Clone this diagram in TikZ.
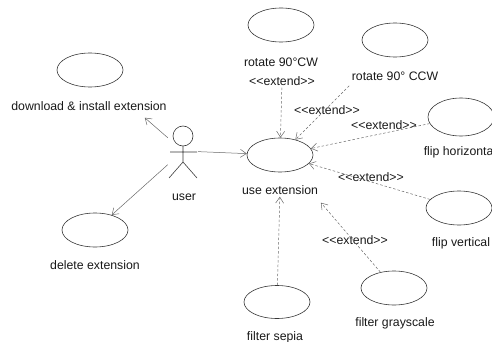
\documentclass[tikz,border=0pt]{standalone}
\usepackage{fontspec}
\setmainfont{Liberation Sans}
\usetikzlibrary{arrows.meta,shapes.geometric}
\definecolor{UcInk}{RGB}{25,25,25}
\definecolor{UcLine}{RGB}{55,55,55}
\definecolor{UcGray}{RGB}{105,105,105}
% plain angle brackets, no guillemet ligature
\newcommand{\extendtag}{<{}<extend>{}>}
\tikzset{
  uc/case/.style={
    ellipse,
    draw=UcLine,
    line width=0.6pt,
    minimum width=66pt,
    minimum height=34pt,
    inner sep=0pt
  },
  uc/label/.style={
    font=\fontsize{12.3}{14}\selectfont,
    text=UcInk,
    inner sep=2pt
  },
  uc/stereo/.style={uc/label},
  uc/actor/.style={minimum width=30pt, minimum height=56pt, inner sep=0pt},
  uc/assoc/.style={-{Straight Barb[length=6pt,width=8pt]}, draw=UcGray, line width=0.5pt},
  uc/ext/.style={uc/assoc, dash pattern=on 2.5pt off 2pt}
}

\begin{document}
\begin{tikzpicture}[x=1pt,y=-1pt]
  \useasboundingbox (0,0) rectangle (492,342);

  % the actor
  \node[uc/actor] (actor) at (183,151) {};
  \draw[UcLine, line width=0.6pt, shift={(actor.center)}]
    (0,-15) circle[radius=10]
    (0,-5) -- (0,11)
    (-13,1) -- (14,1)
    (-14,27) -- (0,11) -- (14,27);
  \node[uc/label] (usertxt) at (184,197) {user};

  % use cases
  \node[uc/case] (download) at (90,70) {};
  \node[uc/label] (downloadtxt) at (89,106) {download \& install extension};
  \node[uc/case] (delete) at (95,230) {};
  \node[uc/label] (deletetxt) at (95,265) {delete extension};
  \node[uc/case] (use) at (280,155) {};
  \node[uc/label] (usetxt) at (280,190) {use extension};
  \node[uc/case] (cw) at (281,25) {};
  \node[uc/label] (cwtxt) at (281,62) {rotate 90°CW};
  \node[uc/case] (ccw) at (395,40) {};
  \node[uc/label] (ccwtxt) at (395,76) {rotate 90° CCW};
  \node[uc/case,minimum height=38pt] (fliph) at (461,117) {};
  \node[uc/label] (fliphtxt) at (460,152) {flip horizontal};
  \node[uc/case] (flipv) at (459,208) {};
  \node[uc/label] (flipvtxt) at (461,243) {flip vertical};
  \node[uc/case] (gray) at (394,288) {};
  \node[uc/label] (graytxt) at (395,323) {filter grayscale};
  \node[uc/case,minimum height=33pt] (sepia) at (277,302) {};
  \node[uc/label] (sepiatxt) at (275,337) {filter sepia};

  % stereotypes
  \node[uc/stereo] (ext1) at (282,81) {\extendtag};
  \node[uc/stereo] (ext2) at (327,110) {\extendtag};
  \node[uc/stereo] (ext3) at (384,125) {\extendtag};
  \node[uc/stereo] (ext4) at (371,177) {\extendtag};
  \node[uc/stereo] (ext5) at (355,240) {\extendtag};

  % associations
  \draw[uc/assoc,shorten >=50pt] (actor) -- (download);
  \draw[uc/assoc] (actor) -- (use);
  \draw[uc/assoc] (actor) -- (delete);

  % extend links
  \draw[uc/ext] (ext1) -- (use);
  \draw[uc/ext,shorten <=43pt] (ccw) -- (use);
  \draw[uc/ext] (fliph) -- (use);
  \draw[uc/ext] (flipv) -- (use);
  \draw[uc/ext,shorten >=42pt] (gray) -- (use);
  \draw[uc/ext] (sepia) -- (usetxt);
\end{tikzpicture}
\end{document}
